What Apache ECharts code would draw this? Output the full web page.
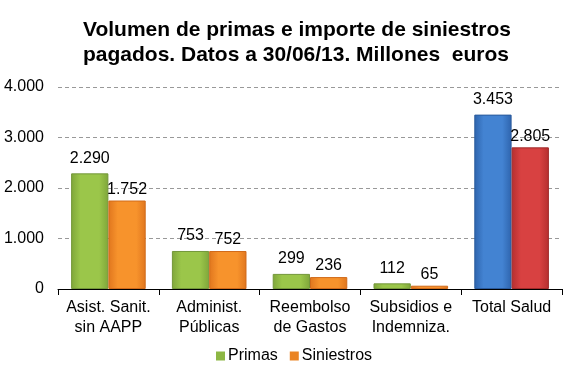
<!DOCTYPE html>
<html><head><meta charset="utf-8">
<script src="https://cdn.jsdelivr.net/npm/echarts@6/dist/echarts.min.js"></script>
<style>html,body{margin:0;padding:0;background:#fff}#c{width:567px;height:378px}</style>
</head><body><div id="c"></div>
<script>
const categories = ['Asist. Sanit.\nsin AAPP', 'Administ.\nPúblicas', 'Reembolso\nde Gastos', 'Subsidios e\nIndemniza.', 'Total Salud'];
const primas = [2290, 753, 299, 112, 3453];
const siniestros = [1752, 752, 236, 65, 2805];
const yTicks = [0, 1000, 2000, 3000, 4000];

function fmt(v){ return String(v).replace(/\B(?=(\d{3})+(?!\d))/g, '.'); }
function grad(edge, mid){
  return new echarts.graphic.LinearGradient(0,0,1,0,[
    {offset:0,color:edge},{offset:0.25,color:mid},{offset:0.75,color:mid},{offset:1,color:edge}]);
}
const green = grad('#7fa63a','#9bc64a');
const orange = grad('#e0761e','#f7932c');
const blue = grad('#2e64ad','#4383d2');
const red = grad('#b52f2f','#d84141');

function mk(vals, normal, last, border, lastBorder){
  return vals.map((v,i)=>({value:v, itemStyle: i===vals.length-1 ? {color:last, borderColor:lastBorder} : {color:normal, borderColor:border}}));
}

const chart = echarts.init(document.getElementById('c'));
chart.setOption({
  animation:false,
  textStyle:{fontFamily:'Liberation Sans, Arial, sans-serif'},
  title:{text:'Volumen de primas e importe de siniestros\npagados. Datos a 30/06/13. Millones  euros',
    left:78, top:13, textStyle:{fontSize:21, fontWeight:'bold', color:'#000', lineHeight:25, align:'center', fontFamily:'Liberation Sans, Arial, sans-serif'}},
  grid:{left:58, right:5, top:87, bottom:89, containLabel:false},
  legend:{bottom:9, left:211, itemWidth:9, itemHeight:9, itemGap:12,
    textStyle:{fontSize:16, color:'#000', padding:[0,0,0,-2]},
    data:[{name:'Primas', icon:'rect', itemStyle:{color:'#8db744'}},{name:'Siniestros', icon:'rect', itemStyle:{color:'#ea8424'}}]},
  xAxis:{type:'category', data:categories,
    axisLine:{lineStyle:{color:'#000', width:1}},
    axisTick:{show:true, length:6, lineStyle:{color:'#000'}},
    axisLabel:{fontSize:16, color:'#000', lineHeight:20, margin:9, interval:0}},
  yAxis:{type:'value', min:0, max:4000, interval:1000,
    axisLine:{show:false}, axisTick:{show:false},
    axisLabel:{fontSize:16, color:'#000', margin:14, formatter:v=>fmt(v)},
    splitLine:{lineStyle:{color:'#999', type:[4,3], width:1}}},
  series:[
    {name:'Primas', type:'bar', data:mk(primas, green, blue, '#74983a', '#2a5a9c'), barGap:'0%', barCategoryGap:'26%',
      itemStyle:{borderWidth:1},
      label:{show:true, position:'top', distance:7, fontSize:16, color:'#000', formatter:p=>fmt(p.value)}},
    {name:'Siniestros', type:'bar', data:mk(siniestros, orange, red, '#d06a1a', '#a02a2a'),
      itemStyle:{borderWidth:1},
      label:{show:true, position:'top', distance:3, fontSize:16, color:'#000', formatter:p=>fmt(p.value)}}
  ]
});
</script></body></html>
